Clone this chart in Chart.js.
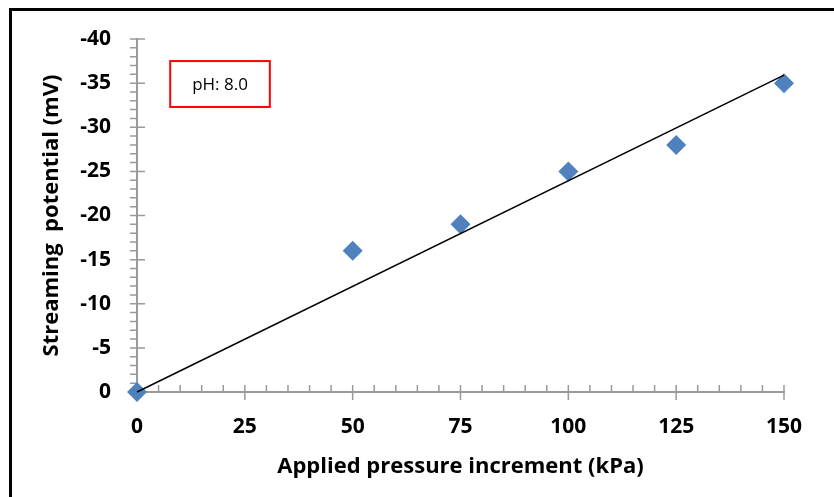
<!DOCTYPE html>
<html>
<head>
<meta charset="utf-8">
<script src="https://cdn.jsdelivr.net/npm/chart.js@4.4.1/dist/chart.umd.min.js"></script>
<style>
  body { margin: 0; background: #fff; }
  #wrap { position: relative; width: 834px; height: 497px; overflow: hidden; }
  #frame { position: absolute; left: 9px; top: 8px; width: 900px; height: 600px;
           border-left: 3px solid #000; border-top: 3px solid #000; }
  canvas { position: absolute; left: 0; top: 0; }
</style>
</head>
<body>
<div id="wrap">
  <div id="frame"></div>
  <canvas id="chartStreaming" width="834" height="497"></canvas>
</div>
<script>
// pressão aplicada (kPa) x potencial de escoamento (mV)
const pressure = [0, 50, 75, 100, 125, 150];
const potential = [0, -16, -19, -25, -28, -35];

// linha de tendência (passando pela origem)
const trendX = [0, 150];
const trendY = [0, -35.9];

const xTicks = [0, 25, 50, 75, 100, 125, 150];
const yTicks = [0, -5, -10, -15, -20, -25, -30, -35, -40];

const AXIS = '#9a9a9a';
const FONT = "'Open Sans'";

// ticks maiores cruzam o eixo, menores só de um lado
const axisTicks = {
    id: 'axisTicks',
    beforeDatasetsDraw(chart) {
        const { ctx, scales: { x, y } } = chart;
        const x0 = x.getPixelForValue(0);
        const y0 = y.getPixelForValue(0);
        ctx.save();
        ctx.strokeStyle = AXIS;
        ctx.lineWidth = 1.5;
        ctx.beginPath();
        for (let v = 0; v <= 150; v += 5) {
            const px = x.getPixelForValue(v);
            const major = v % 25 === 0;
            ctx.moveTo(px, y0 - 7);
            ctx.lineTo(px, major ? y0 + 8 : y0);
        }
        for (let v = 0; v >= -40; v -= 1) {
            const py = y.getPixelForValue(v);
            const major = v % 5 === 0;
            ctx.moveTo(x0 - 7, py);
            ctx.lineTo(major ? x0 + 8 : x0, py);
        }
        ctx.stroke();
        ctx.restore();
    }
};

// caixa com o pH
const phBox = {
    id: 'phBox',
    afterDraw(chart) {
        const { ctx, scales: { x, y } } = chart;
        const left = x.getPixelForValue(7.7);
        const right = x.getPixelForValue(30.8);
        const top = y.getPixelForValue(-37.5);
        const bottom = y.getPixelForValue(-32.3);
        ctx.save();
        ctx.strokeStyle = '#ff0000';
        ctx.lineWidth = 2;
        ctx.strokeRect(left, top, right - left, bottom - top);
        ctx.fillStyle = '#000';
        ctx.font = '17px ' + FONT;
        ctx.textAlign = 'center';
        ctx.textBaseline = 'middle';
        ctx.fillText('pH: 8.0', (left + right) / 2, (top + bottom) / 2 + 1);
        ctx.restore();
    }
};

new Chart(document.getElementById('chartStreaming').getContext('2d'), {
    type: 'scatter',
    data: {
        datasets: [
            {
                type: 'line',
                label: 'Tendência',
                data: trendX.map((v, i) => ({ x: v, y: trendY[i] })),
                borderColor: '#000',
                borderWidth: 1.5,
                pointRadius: 0,
                fill: false,
                clip: false,
                order: 0
            },
            {
                label: 'pH 8.0',
                data: pressure.map((v, i) => ({ x: v, y: potential[i] })),
                pointStyle: 'rectRot',
                pointRadius: 10,
                pointHoverRadius: 10,
                backgroundColor: '#4f81bd',
                borderWidth: 0,
                clip: false,
                order: 1
            }
        ]
    },
    options: {
        responsive: false,
        animation: false,
        layout: { padding: { left: 0, top: 39, right: 50, bottom: 0 } },
        plugins: { legend: { display: false }, tooltip: { enabled: false } },
        scales: {
            x: {
                type: 'linear',
                min: 0,
                max: 150,
                afterBuildTicks: s => { s.ticks = xTicks.map(v => ({ value: v })); },
                afterFit: s => { s.height = 105; },
                grid: { display: false, drawTicks: false },
                border: { display: true, color: AXIS, width: 2 },
                ticks: { color: '#000', padding: 22, font: { family: FONT, size: 21, weight: 'bold' } },
                title: {
                    display: true,
                    text: 'Applied pressure increment (kPa)',
                    color: '#000',
                    padding: { top: 0, bottom: 17 },
                    font: { family: FONT, size: 22, weight: 'bold' }
                }
            },
            y: {
                type: 'linear',
                min: -40,
                max: 0,
                reverse: true,
                afterBuildTicks: s => { s.ticks = yTicks.map(v => ({ value: v })); },
                afterFit: s => { s.width = 137; },
                grid: { display: false, drawTicks: false },
                border: { display: true, color: AXIS, width: 2 },
                ticks: { color: '#000', padding: 26, font: { family: FONT, size: 21, weight: 'bold' } },
                title: {
                    display: true,
                    text: 'Streaming  potential (mV)',
                    color: '#000',
                    padding: { top: 39, bottom: 0 },
                    font: { family: FONT, size: 22, weight: 'bold' }
                }
            }
        }
    },
    plugins: [axisTicks, phBox]
});
</script>
</body>
</html>
